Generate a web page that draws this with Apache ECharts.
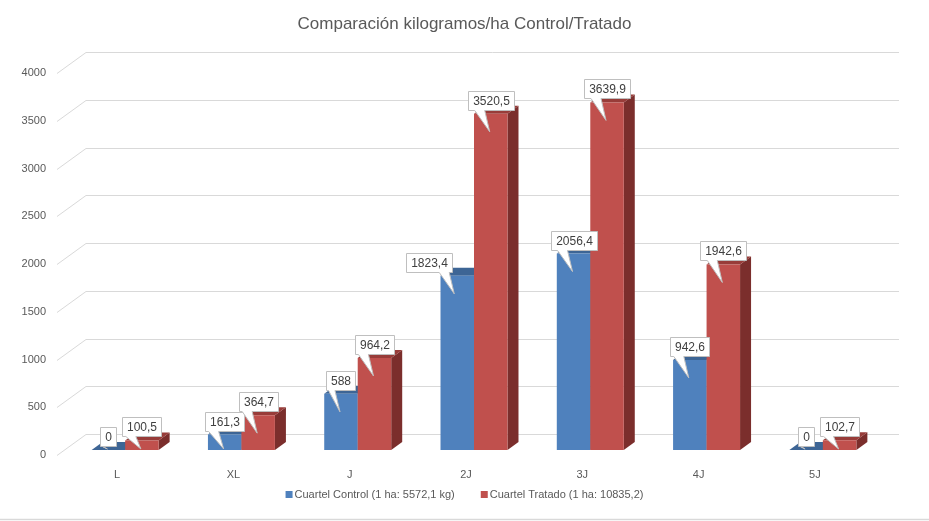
<!DOCTYPE html>
<html>
<head>
<meta charset="utf-8">
<style>
  html, body { margin: 0; padding: 0; background: #fff; }
  #chart { width: 929px; height: 521px; }
</style>
<script src="https://cdn.jsdelivr.net/npm/echarts@6/dist/echarts.min.js"></script>
</head>
<body>
<div id="chart"></div>
<script>
  const categories = ['L', 'XL', 'J', '2J', '3J', '4J', '5J'];
  const controlValues = [0, 161.3, 588, 1823.4, 2056.4, 942.6, 0];
  const tratadoValues = [100.5, 364.7, 964.2, 3520.5, 3639.9, 1942.6, 102.7];
  const yTicks = [0, 500, 1000, 1500, 2000, 2500, 3000, 3500, 4000];
  const seriesNames = ['Cuartel Control (1 ha: 5572,1 kg)', 'Cuartel Tratado (1 ha: 10835,2)'];

  const FONT = '"Liberation Sans", Arial, sans-serif';
  // wall depth (perspective of back wall) and bar offsets
  const WALL = { dx: 29, dy: -21 };
  const BAR_SHIFT = { dx: 8, dy: -5 };
  const BAR_DEPTH = { dx: 11, dy: -8 };
  const COLORS = [
    { front: '#4f81bd', top: '#3d6595', side: '#2f4e74' },
    { front: '#c0504d', top: '#983c39', side: '#7b2e2c' }
  ];
  // excel moved a couple of callouts sideways to avoid overlap
  const LABEL_NUDGE = { '0-3': -28 };

  const measure = (() => {
    const ctx = document.createElement('canvas').getContext('2d');
    ctx.font = '12px ' + FONT;
    return (t) => ctx.measureText(t).width;
  })();

  const fmt = (v) => String(v).replace('.', ',');

  const barGeom = (api, sIdx) => {
    const cat = api.value(0);
    const val = api.value(1);
    const base = api.coord([cat, 0]);
    const topPt = api.coord([cat, val]);
    const band = api.size([1, 0])[0];
    const w = band * 0.288;
    const x0 = base[0] + BAR_SHIFT.dx - w + sIdx * w;
    const yb = base[1] + BAR_SHIFT.dy;
    const yt = topPt[1] + BAR_SHIFT.dy;
    return { x0, x1: x0 + w, yb, yt, w };
  };

  const makeBarSeries = (sIdx, values) => ({
    name: seriesNames[sIdx],
    type: 'custom',
    itemStyle: { color: COLORS[sIdx].front },
    data: values.map((v, i) => [i, v]),
    z: 3,
    renderItem: (params, api) => {
      const g = barGeom(api, sIdx);
      const c = COLORS[sIdx];
      const d = BAR_DEPTH;
      return {
        type: 'group',
        children: [
          {
            type: 'polygon',
            shape: { points: [[g.x1, g.yb], [g.x1 + d.dx, g.yb + d.dy], [g.x1 + d.dx, g.yt + d.dy], [g.x1, g.yt]] },
            style: { fill: c.side }
          },
          {
            type: 'polygon',
            shape: { points: [[g.x0, g.yt], [g.x1, g.yt], [g.x1 + d.dx, g.yt + d.dy], [g.x0 + d.dx, g.yt + d.dy]] },
            style: { fill: c.top }
          },
          {
            type: 'rect',
            shape: { x: g.x0, y: g.yt, width: g.w, height: g.yb - g.yt },
            style: { fill: c.front }
          }
        ]
      };
    }
  });

  const makeLabelSeries = (sIdx, values) => ({
    type: 'custom',
    silent: true,
    data: values.map((v, i) => [i, v]),
    z: 10,
    renderItem: (params, api) => {
      const g = barGeom(api, sIdx);
      const text = fmt(api.value(1));
      const bw = Math.round(measure(text)) + 9;
      const bh = 19;
      const cx = (g.x0 + g.x1) / 2;
      const nudge = LABEL_NUDGE[sIdx + '-' + params.dataIndex] || 0;
      const bx = Math.round(cx - bw / 2 + nudge) + 0.5;
      const by = Math.round(g.yt - 4 - bh) + 0.5;
      const tipX = cx - (nudge ? 3 : 1);
      const tipY = Math.min(g.yt + 18, g.yb - 1);
      let w1 = tipX - 15, w2 = tipX - 5;
      w2 = Math.min(w2, bx + bw - 3);
      w1 = Math.max(Math.min(w1, w2 - 8), bx + 2);
      const pts = [
        [bx, by], [bx + bw, by], [bx + bw, by + bh],
        [w2, by + bh], [tipX, tipY], [w1, by + bh], [bx, by + bh]
      ];
      return {
        type: 'group',
        children: [
          {
            type: 'polygon',
            shape: { points: pts },
            style: { fill: '#ffffff', stroke: '#bfbfbf', lineWidth: 1 }
          },
          {
            type: 'text',
            style: {
              x: bx + bw / 2, y: by + bh / 2 + 0.5, text,
              align: 'center', verticalAlign: 'middle',
              fill: '#404040', font: '12px ' + FONT
            }
          }
        ]
      };
    }
  });

  const wallSeries = {
    type: 'custom',
    silent: true,
    data: yTicks.map((v) => [0, v]),
    z: 1,
    renderItem: (params, api) => {
      const cs = params.coordSys;
      const y = Math.round(api.coord([0, api.value(1)])[1]) + 0.5;
      const xs = cs.x - 2;
      const xe = cs.x + cs.width + WALL.dx - 3;
      return {
        type: 'polyline',
        shape: { points: [[xs, y], [xs + WALL.dx, y + WALL.dy], [xe, y + WALL.dy]] },
        style: { fill: null, stroke: '#d9d9d9', lineWidth: 1 }
      };
    }
  };

  const chart = echarts.init(document.getElementById('chart'), null, { renderer: 'canvas' });
  chart.setOption({
    animation: false,
    backgroundColor: '#ffffff',
    textStyle: { fontFamily: FONT },
    title: {
      text: 'Comparación kilogramos/ha Control/Tratado',
      left: 'center',
      top: 11,
      textStyle: { color: '#595959', fontSize: 17, fontWeight: 'normal', fontFamily: FONT }
    },
    legend: {
      bottom: 16,
      left: 'center',
      icon: 'rect',
      itemWidth: 7,
      itemHeight: 7,
      itemGap: 26,
      textStyle: { color: '#595959', fontSize: 11, padding: [0, 0, 0, -3] },
      data: seriesNames
    },
    grid: { left: 59, right: 56, top: 73, bottom: 66 },
    xAxis: {
      type: 'category',
      data: categories,
      axisLine: { show: false },
      axisTick: { show: false },
      axisLabel: { color: '#595959', fontSize: 11, margin: 14 }
    },
    yAxis: {
      type: 'value',
      min: 0,
      max: 4000,
      interval: 500,
      axisLine: { show: false },
      axisTick: { show: false },
      splitLine: { show: false },
      axisLabel: { color: '#595959', fontSize: 11, margin: 13, formatter: (v) => String(v) }
    },
    graphic: [
      {
        type: 'line',
        shape: { x1: 0, y1: 519.5, x2: 929, y2: 519.5 },
        style: { stroke: '#d9d9d9', lineWidth: 1.5 }
      }
    ],
    series: [
      wallSeries,
      makeBarSeries(0, controlValues),
      makeBarSeries(1, tratadoValues),
      makeLabelSeries(0, controlValues),
      makeLabelSeries(1, tratadoValues)
    ]
  });
</script>
</body>
</html>
